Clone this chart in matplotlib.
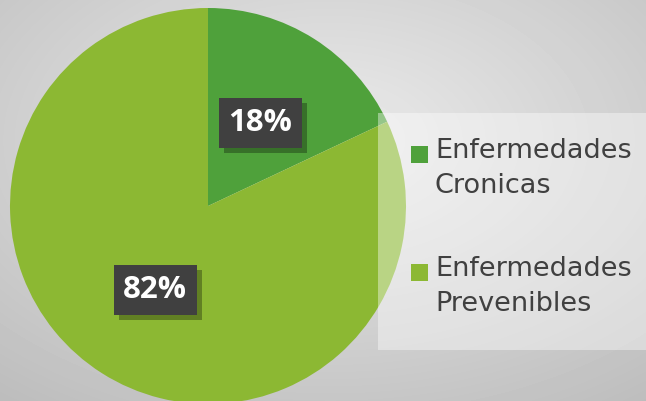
import numpy as np
import matplotlib.pyplot as plt
from matplotlib.patches import Rectangle

labels = ["Enfermedades\nCronicas", "Enfermedades\nPrevenibles"]
values = [18, 82]
colors = ["#4fa13b", "#8cb833"]

W, H = 646, 401
fig = plt.figure(figsize=(6.46, 4.01), dpi=100)
ax = fig.add_axes([0, 0, 1, 1])

# radial gray gradient background
yy, xx = np.mgrid[0:H, 0:W]
r = np.sqrt(((xx - 330) / W) ** 2 + ((yy - 260) / H) ** 2)
bg = np.clip(0.92 - 0.22 * r, 0, 1)
ax.imshow(bg, cmap="gray", vmin=0, vmax=1, extent=(0, W, 0, H), origin="lower", zorder=0)

cx, cy, R = 208, 195, 198
wedges, _ = ax.pie(values, colors=colors, startangle=90, counterclock=False,
                   center=(cx, cy), radius=R, frame=True,
                   wedgeprops=dict(linewidth=0))
for w in wedges:
    w.set_zorder(1)
ax.set_xlim(0, W)
ax.set_ylim(0, H)
ax.set_aspect("equal")
ax.axis("off")

# percentage labels (box centre in pixels from top-left)
pos = [(260, 123), (155, 290)]
bw, bh = 83, 50
for (x, y), v in zip(pos, values):
    yd = H - y
    ax.add_patch(Rectangle((x - bw / 2 + 5, yd - bh / 2 - 5), bw, bh,
                           fc="black", alpha=0.3, ec="none", zorder=2))
    ax.add_patch(Rectangle((x - bw / 2, yd - bh / 2), bw, bh,
                           fc="#404040", ec="none", zorder=3))
    ax.text(x, yd, f"{v}%", fontsize=22.5, fontweight="bold", color="white",
            family="Open Sans", ha="center", va="center", zorder=4)

# legend panel
ax.add_patch(Rectangle((378, 51), 280, 237, fc="white", alpha=0.4, ec="none", zorder=5))
for i, (lab, c) in enumerate(zip(labels, colors)):
    ytop = H - 138 - i * 118
    ax.add_patch(Rectangle((411, ytop - 25), 17, 17, fc=c, ec="none", zorder=6))
    ax.text(435, ytop, lab, fontsize=19.5, color="#404040", va="top", ha="left",
            linespacing=1.45, zorder=6)

fig.savefig("out.png", dpi=100)
